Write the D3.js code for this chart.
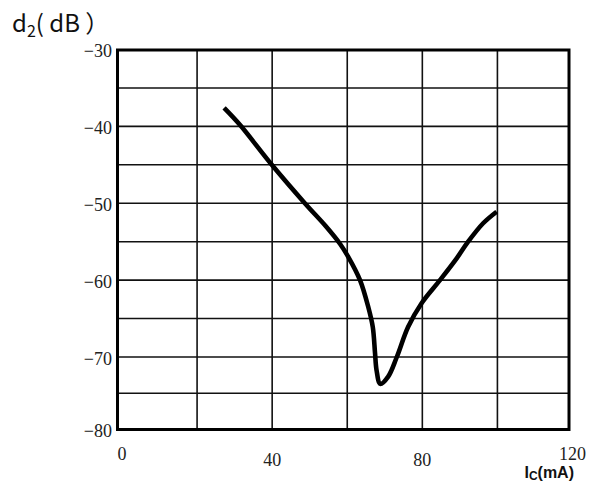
<!DOCTYPE html>
<html>
<head>
<meta charset="utf-8">
<script src="https://cdn.jsdelivr.net/npm/d3@7/dist/d3.min.js"></script>
<style>
  html, body { margin: 0; padding: 0; background: #fff; }
  svg { display: block; }
</style>
</head>
<body>
<svg id="chart" width="598" height="484"></svg>
<script>
// Collector current Ic (mA) and second-order distortion d2 (dB)
const current = [27.2, 31.4, 39.9, 48.7, 54.3, 58.1, 60.3, 63.4, 65.6, 66.8, 67.4, 67.8, 68.8, 70.9, 73.2, 76.2, 79.8, 84.7, 89.1, 92.2, 96.2, 99.8];
const d2 = [-37.6, -39.8, -45.0, -50.0, -53.0, -55.3, -57.0, -60.0, -63.5, -66.1, -69.5, -71.8, -73.7, -72.7, -70.0, -66.1, -63.0, -60.0, -57.2, -55.0, -52.6, -51.1];

const xTicks = [0, 40, 80, 120];
const xGrid = [20, 40, 60, 80, 100];
const yTicks = [-30, -40, -50, -60, -70, -80];
const yGrid = [-35, -40, -45, -50, -55, -60, -65, -70, -75];

const svg = d3.select("#chart");

const frame = { left: 117.5, right: 569, top: 50, bottom: 429.5 };

const x = d3.scaleLinear().domain([0, 120]).range([122, 572.5]);
const y = d3.scaleLinear().domain([-80, -70, -30]).range([429.5, 357, 49.5]);

// grid
const grid = svg.append("g").attr("stroke", "#111").attr("stroke-width", 1.6);
grid.selectAll("line.v").data(xGrid).join("line")
  .attr("class", "v")
  .attr("x1", d => x(d)).attr("x2", d => x(d))
  .attr("y1", frame.top).attr("y2", frame.bottom);
grid.selectAll("line.h").data(yGrid).join("line")
  .attr("class", "h")
  .attr("x1", frame.left).attr("x2", frame.right)
  .attr("y1", d => y(d)).attr("y2", d => y(d));

// frame
svg.append("rect")
  .attr("x", frame.left).attr("y", frame.top)
  .attr("width", frame.right - frame.left).attr("height", frame.bottom - frame.top)
  .attr("fill", "none").attr("stroke", "#000").attr("stroke-width", 3);

// curve
const pts = current.map((c, i) => [c, d2[i]]);
const line = d3.line()
  .x(d => x(d[0])).y(d => y(d[1]))
  .curve(d3.curveCatmullRom.alpha(0.5));
svg.append("path")
  .datum(pts)
  .attr("d", line)
  .attr("fill", "none")
  .attr("stroke", "#000")
  .attr("stroke-width", 4.6)
  .attr("stroke-linejoin", "round")
  .attr("stroke-linecap", "butt");

// y tick labels
const fmt = d3.format("d");
svg.append("g")
  .attr("font-family", "'Liberation Serif', 'DejaVu Serif', serif")
  .attr("font-size", 18)
  .attr("fill", "#222")
  .selectAll("text").data(yTicks).join("text")
  .attr("x", 112)
  .attr("y", d => y(d))
  .attr("dy", "0.42em")
  .attr("text-anchor", "end")
  .text(d => fmt(d));

// x tick labels
svg.append("g")
  .attr("font-family", "'Liberation Serif', 'DejaVu Serif', serif")
  .attr("font-size", 18)
  .attr("fill", "#222")
  .selectAll("text").data(xTicks).join("text")
  .attr("x", d => x(d))
  .attr("y", d => (d === 0 || d === 120) ? 460 : 466)
  .attr("text-anchor", "middle")
  .text(d => fmt(d));

// y axis title
const yt = svg.append("text")
  .attr("x", 12).attr("y", 32)
  .attr("font-family", "'Noto Sans CJK JP', 'Noto Sans', sans-serif")
  .attr("font-size", 24)
  .attr("fill", "#111");
yt.append("tspan").text("d");
yt.append("tspan").attr("font-size", 16).attr("dy", 5).text("2");
yt.append("tspan").attr("dy", -5).text("( dB ）");

// x axis title
const xt = svg.append("text")
  .attr("x", 574).attr("y", 478)
  .attr("text-anchor", "end")
  .attr("font-family", "'Liberation Sans', Arial, sans-serif")
  .attr("font-weight", "bold")
  .attr("font-size", 16)
  .attr("fill", "#111");
xt.append("tspan").text("I");
xt.append("tspan").attr("font-size", 12).attr("dy", 2).text("C");
xt.append("tspan").attr("dy", -2).text("(mA)");
</script>
</body>
</html>
